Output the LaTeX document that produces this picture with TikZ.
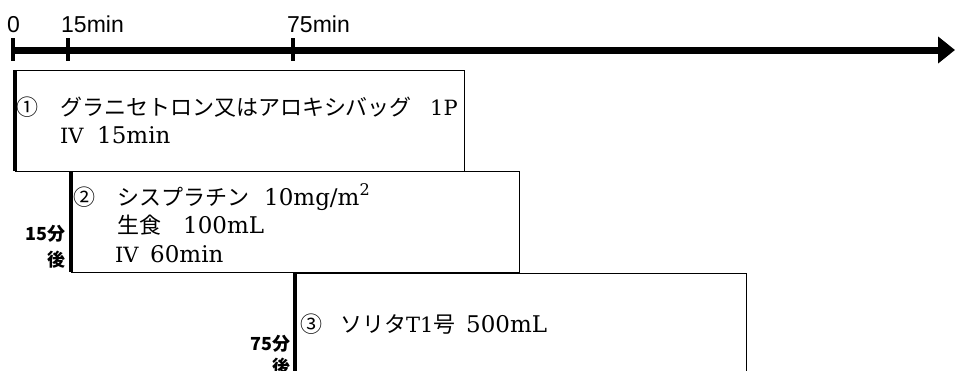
\documentclass[tikz,border=0pt]{standalone}
\usepackage{fontspec}
\newfontfamily\jp{Noto Sans CJK JP}
\newfontfamily\lab{Liberation Sans}
\newfontfamily\serifL{DejaVu Serif}
\usetikzlibrary{arrows.meta}
\newcommand{\J}[1]{{\jp\fontsize{22}{26}\selectfont #1}}
\tikzset{
  thinbox/.style={draw=black, line width=1pt},
  leftbar/.style={line width=4pt},
  axisline/.style={line width=7pt, -{Triangle[length=17pt,width=26pt]}},
  tickmark/.style={line width=4pt},
  jt/.style={anchor=base west, inner sep=0pt, font=\jp\fontsize{22}{26}\selectfont},
  lt/.style={anchor=base west, inner sep=0pt, font=\serifL\fontsize{23}{27}\selectfont},
  ls/.style={anchor=base west, inner sep=0pt, font=\serifL\fontsize{21}{25}\selectfont},
  side/.style={anchor=base east, inner sep=0pt, font=\jp\bfseries\fontsize{18}{20}\selectfont},
  toplab/.style={anchor=base west, inner sep=0pt, font=\lab\fontsize{23}{26}\selectfont},
}
\begin{document}
\begin{tikzpicture}[x=1pt,y=-1pt]
\useasboundingbox (0,0) rectangle (955,370);
% axis
\coordinate (a0) at (12,50);
\coordinate (aend) at (955,50);
\draw[axisline] (a0) -- (aend);
\draw[tickmark] (13,38) -- (13,61);
\draw[tickmark] (68,38) -- (68,61);
\draw[tickmark] (293,38) -- (293,61);
\node[toplab] (l0) at (7,32) {0};
\node[toplab] (l15) at (61,32) {15min};
\node[toplab] (l75) at (287,32) {75min};
% box 1
\draw[thinbox] (14.7,70) -- (464.5,70) -- (464.5,171) -- (14.7,171);
\draw[leftbar] (14.7,70) -- (14.7,171);
\node[jt] (n1) at (16,115) {①};
\node[jt] (t1) at (60,115) {グラニセトロン又はアロキシバッグ};
\node[ls] (p1) at (430,115) {1P};
\node[ls] (iv1) at (60,143) {IV};
\node[lt] (m1) at (97,143) {15min};
% box 2
\draw[thinbox] (70.5,171) -- (519.5,171) -- (519.5,272) -- (70.5,272);
\draw[leftbar] (70.5,171) -- (70.5,272);
\node[jt] (n2) at (73,205) {②};
\node[jt] (t2) at (117,205) {シスプラチン};
\node[lt] (d2) at (264,205) {10mg/m\textsuperscript{2}};
\node[jt] (s2) at (117,233) {生食};
\node[lt] (v2) at (183,233) {100mL};
\node[ls] (iv2) at (115,262) {IV};
\node[lt] (m2) at (150,262) {60min};
\node[side] (k15) at (66,240) {15分};
\node[side] (k15b) at (66,266) {後};
% box 3
\draw[thinbox] (294.7,273) -- (746,273) -- (746,385);
\draw[leftbar] (294.7,273) -- (294.7,385);
\node[jt] (n3) at (300,332) {③};
\node[ls] (t3) at (340,332) {\J{ソリタ}T1\J{号}};
\node[lt] (v3) at (466,332) {500mL};
\node[side] (k75) at (291,350) {75分};
\node[side] (k75b) at (291,373) {後};
\end{tikzpicture}
\end{document}
